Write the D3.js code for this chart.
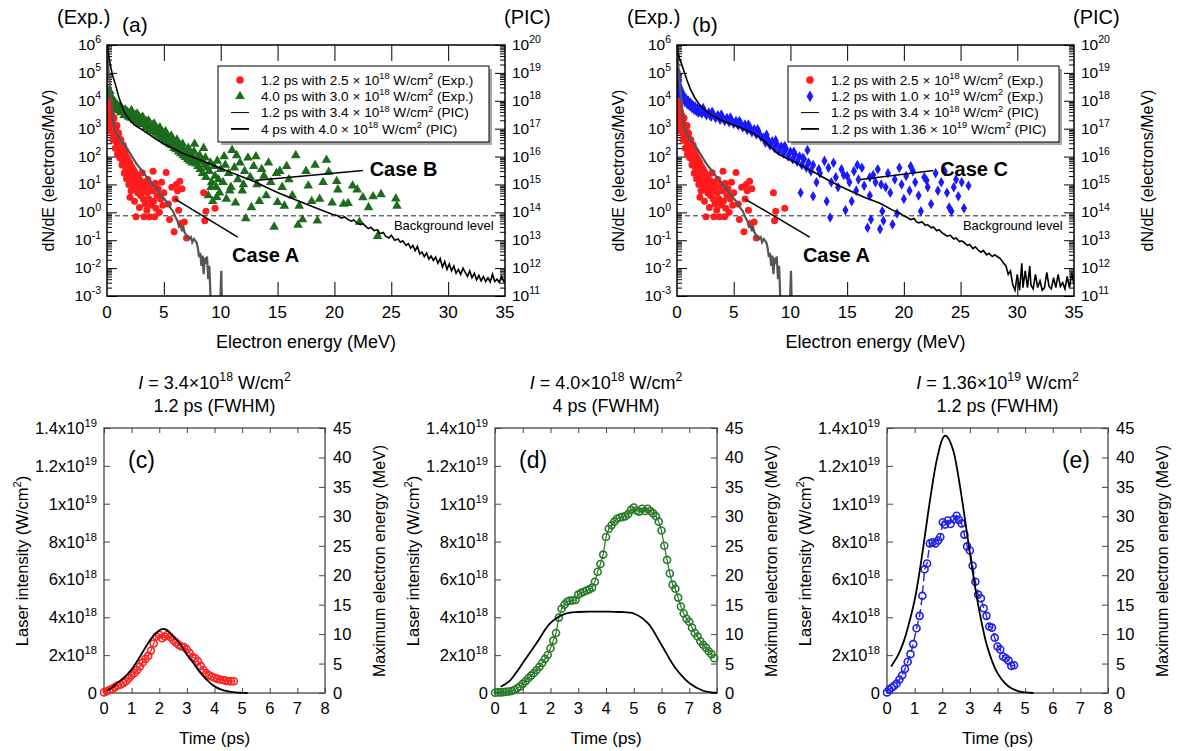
<!DOCTYPE html>
<html>
<head>
<meta charset="utf-8">
<script src="https://cdn.jsdelivr.net/npm/d3@7"></script>
<style>
body { margin: 0; background: #fff; }
svg text { font-family: "Liberation Sans", Arial, sans-serif; fill: #000; }
</style>
</head>
<body>
<svg id="fig" width="1177" height="751"></svg>
<script>
// ---- spectra data (a), (b): [energy MeV, dN/dE] ----
// experimental points, left axis (Exp.)
const redExp = [
  [0.05,1.5e3],[0.08,4e3],[0.1,7e3],[0.14,2.2e3],[0.17,5e3],[0.2,9e3],[0.23,3e3],[0.26,6e3],[0.29,1.6e3],[0.32,4e3],
  [0.35,2.4e3],[0.38,1.2e3],[0.42,3e3],[0.46,8e2],[0.5,1.8e3],[0.55,1e3],[0.6,5e2],[0.65,1.3e3],[0.7,6.5e2],[0.75,3.6e2],
  [0.8,9e2],[0.85,4.5e2],[0.9,2.6e2],[0.95,6e2],[1.0,3.2e2],[1.05,1.7e2],[1.1,4.2e2],[1.15,2.1e2],[1.2,1.2e2],[1.25,2.7e2],
  [1.3,1.4e2],[1.35,75],[1.4,1.9e2],[1.45,95],[1.5,52],[1.55,1.3e2],[1.6,66],[1.65,36],[1.7,1e2],[1.75,48],
  [1.8,26],[1.85,78],[1.9,38],[1.95,18],[2.0,60],[2.05,28],[2.1,14],[2.15,45],[2.2,22],[2.25,10],
  [2.3,35],[2.35,16],[2.4,7],[2.45,28],[2.5,12],[2.55,0.7],[2.6,22],[2.65,9],[2.7,5],[2.75,18],
  [2.8,7],[2.9,14],[2.95,4],[3.0,10],[3.1,26],[3.15,6],[3.2,3],[3.3,12],[3.35,2],[3.4,8],
  [3.5,1.2],[3.55,5],[3.6,15],[3.7,3],[3.75,0.7],[3.8,9],[3.9,1.8],[4.0,6],[4.05,30],[4.1,2.5],
  [4.2,0.7],[4.25,11],[4.3,1.4],[4.4,4],[4.5,7],[4.6,1],[4.7,3],[4.8,12],[4.9,1.8],[5.0,5],
  [5.2,27],[5.4,2],[5.5,0.55],[5.7,8],[5.9,0.2],[6.0,3],[6.1,10],[6.2,6],[6.3,1.2],[6.4,13],
  [6.5,0.4],[6.6,7],[6.8,0.45],[7.0,0.12],[8.5,5],[8.6,0.5],[8.7,1.1],[9.5,1.4],
  [0.3,8e2],[0.52,4e2],[0.62,2.4e3],[0.72,2e2],[0.88,1.3e3],[0.92,1.2e2],[1.12,90],[1.32,50],[1.52,25],[1.72,16],
  [1.92,10],[2.12,6],[1.02,7e2],[1.22,4e2],[1.42,2.6e2],[1.62,1.6e2],[2.02,3.5],[2.42,2.5],[2.85,1.5],[3.25,0.7]
];
const greenExp = [
  [0.02,1.5e4],[0.05,2.5e4],[0.08,1e4],[0.1,2e4],[0.12,8e3],[0.15,1.6e4],[0.2,1.2e4],[0.25,2.2e4],[0.3,9e3],[0.35,1.5e4],
  [0.4,7e3],[0.45,1.1e4],[0.5,8e3],[0.6,6e3],[0.7,9e3],[0.8,5e3],[0.9,7e3],[1.0,4.5e3],[1.1,6e3],[1.2,3.8e3],
  [1.3,5.5e3],[1.4,4e3],[1.5,3e3],[1.6,4.8e3],[1.7,3.2e3],[1.8,4e3],[1.9,2.6e3],[2.0,3.5e3],[2.1,2.4e3],[2.2,3.8e3],
  [2.3,2.8e3],[2.4,2e3],[2.5,3e3],[2.6,2.2e3],[2.7,1.6e3],[2.8,2.6e3],[2.9,1.8e3],[3.0,2.4e3],[3.1,1.4e3],[3.2,2e3],
  [3.3,1.5e3],[3.4,1.1e3],[3.5,1.8e3],[3.6,1.2e3],[3.7,900],[3.8,1.5e3],[3.9,1e3],[4.0,1.3e3],[4.1,800],[4.2,1.1e3],
  [4.3,700],[4.4,950],[4.5,600],[4.6,850],[4.7,500],[4.8,700],[4.9,450],[5.0,620],[5.1,380],[5.2,520],
  [5.3,330],[5.4,450],[5.5,280],[5.6,400],[5.7,250],[5.8,330],[5.9,200],[6.0,300],[6.1,180],[6.2,250],
  [6.3,150],[6.4,220],[6.5,130],[6.6,190],[6.7,110],[6.8,160],[6.9,95],[7.0,140],[7.1,80],[7.2,120],
  [7.3,70],[7.4,110],[7.5,60],[7.6,90],[7.7,280],[7.8,55],[7.9,85],[8.0,45],[8.1,75],[8.2,35],
  [8.3,65],[8.4,25],[8.5,200],[8.6,50],[8.7,18],[8.8,40],[8.9,4],[9.0,30],[9.1,60],[9.2,12],
  [9.3,2.5],[9.4,45],[9.5,20],[9.6,8],[9.7,70],[9.8,15],[9.9,5],[10.0,35],[10.2,12],[10.4,50],
  [10.5,3],[10.7,25],[10.9,8],[11.0,170],[11.2,40],[11.3,2.2],[11.5,15],[11.7,60],[11.9,6],[12.1,30],
  [12.2,0.6],[12.4,90],[12.6,18],[12.7,1.5],[12.9,45],[13.1,100],[13.2,10],[13.4,2.5],[13.6,35],[13.8,20],
  [14.0,4],[14.2,60],[14.4,12],[14.7,0.3],[14.9,25],[15.0,2.3],[15.2,30],[15.4,8],[15.6,1.7],[15.8,45],
  [16.0,15],[16.3,4],[16.6,110],[16.8,0.35],[16.9,1.7],[17.2,0.55],[17.5,30],[17.7,9],[18.0,2.5],[18.3,50],
  [18.5,0.5],[18.7,3],[19.0,12],[19.3,75],[19.5,28],[19.8,2.2],[20.2,13],[20.3,6.5],[20.8,2],[21.2,2.1],
  [21.6,9],[22.0,6.5],[22.2,0.45],[22.5,3.4],[23.0,1.5],[23.4,3.7],[23.8,0.14],[24.1,4.4],[25.4,3.1],[25.5,1.7],
  [2.15,4.6e3],[2.65,3.4e3],[3.15,2.6e3],[3.65,1.9e3],[4.15,1.5e3],[4.65,1.1e3],[5.15,800],[5.65,560],[6.15,400],[6.65,280],
  [7.15,200],[7.65,150],[8.15,110],[8.65,90],[9.15,8],[9.65,3.5],[10.3,100],[10.8,6],[11.4,110],[12.0,10]
];
const blueExp = [
  [0.02,1.5e4],[0.04,3e4],[0.06,6e4],[0.08,1.1e5],[0.1,4e4],[0.12,8e4],[0.15,2.2e4],[0.18,5e4],[0.22,3e4],[0.26,1.8e4],
  [0.3,2.8e4],[0.35,1.5e4],[0.4,2.2e4],[0.45,1.3e4],[0.5,1.8e4],[0.6,1.4e4],[0.7,9e3],[0.8,1.2e4],[0.9,7.5e3],[1.0,1e4],
  [1.1,6.5e3],[1.2,8.5e3],[1.3,5.5e3],[1.4,7e3],[1.5,4.8e3],[1.6,6.2e3],[1.7,4.2e3],[1.8,5.5e3],[1.9,3.7e3],[2.0,5e3],
  [2.1,4e3],[2.2,3.5e3],[2.4,4.4e3],[2.5,3.6e3],[2.6,3e3],[2.8,3.8e3],[2.9,3.1e3],[3.0,2.7e3],[3.2,3.3e3],[3.4,2.4e3],
  [3.6,3e3],[3.8,2.1e3],[4.0,2.7e3],[4.2,1.9e3],[4.4,2.4e3],[4.6,1.7e3],[4.8,2.1e3],[5.0,1.5e3],[5.2,1.9e3],[5.4,1.3e3],
  [5.6,1.6e3],[5.8,1.1e3],[6.0,1.4e3],[6.2,900],[6.4,1.15e3],[6.6,750],[6.8,950],[7.0,620],[7.2,780],[7.4,500],
  [7.6,480],[7.8,320],[8.0,420],[8.2,250],[8.4,350],[8.6,200],[8.8,280],[9.0,160],[9.2,230],[9.4,130],
  [9.6,190],[9.8,100],[10.0,150],[10.2,80],[10.4,120],[10.6,65],[10.8,100],[11.0,50],[11.2,80],[11.4,40],
  [11.6,60],[11.8,30],[12.0,50],[10.9,5],[11.5,170],[12.0,3.8],[12.3,12],[12.6,25],[13.0,70],[13.2,2.5],
  [13.35,40],[13.5,0.65],[13.8,60],[14.0,18],[14.2,8],[14.5,35],[14.85,1.2],[15.0,20],[15.2,12],[15.4,2.5],
  [15.6,30],[15.8,6],[16.0,15],[16.3,40],[16.5,9],[16.8,0.28],[17.0,4],[17.1,0.55],[17.3,22],[17.5,12],
  [17.7,35],[17.9,0.25],[18.1,1.1],[18.2,0.5],[18.4,8],[18.6,25],[18.8,5],[19.0,0.37],[19.2,15],[19.4,0.9],
  [19.6,40],[19.8,10],[20.0,3],[20.2,20],[20.5,6],[20.8,30],[21.0,12],[21.3,4],[21.5,1.1],[21.8,18],
  [22.1,8],[22.4,2],[22.8,25],[23.0,6],[23.3,12],[23.6,30],[23.8,5],[24.0,1.5],[24.2,1.1],[24.4,8],
  [24.6,15],[24.8,3.8],[25.1,12],[25.3,1.4],[25.7,9],
  [2.3,5.5e3],[3.1,4e3],[3.9,3.2e3],[4.7,2.5e3],[5.5,1.9e3],[6.3,1.4e3],[7.1,950],[7.9,600],[8.7,380],[9.5,240],
  [10.3,150],[11.1,90],[12.5,35],[13.6,12],[14.7,22],[15.9,50],[17.0,18],[18.0,10],[20.6,45],[22.0,14]
];
// PIC spectra, right axis (PIC)
const picShort = [
  [0.02,1e20],[0.08,4e19],[0.15,1e19],[0.25,4e18],[0.35,1.6e18],[0.45,5e17],[0.55,1.6e17],[0.7,8.9e16],[0.9,6e16],[1.06,4.8e16],
  [1.35,3.2e16],[1.65,2.3e16],[2.2,1e16],[2.6,5.5e15],[2.97,3.5e15],[3.3,2.3e15],[3.7,1.5e15],[4.05,1e15],[4.4,6.6e14],[4.8,4e14],
  [5.2,2.5e14],[5.5,1.6e14],[5.8,1.1e14],[6.0,7e13],[6.2,4.9e13],[6.35,3e13],[6.5,3.2e13],[6.6,2.1e13],[6.7,3.2e13],[6.8,2e13],
  [6.94,1.6e13],[7.05,1.3e13],[7.2,1.1e13],[7.38,1.3e13],[7.5,8.5e12],[7.65,1.1e13],[7.88,8.3e12],[8.0,5e12],[8.1,2.5e12],[8.2,3.5e12],
  [8.3,1.2e12],[8.4,2.8e12],[8.5,6e11],[8.6,2.4e12],[8.7,1.4e12],[8.8,2.6e12],[8.9,4e11],[9.0,1.2e12],[9.1,1e11],[9.2,1e10],
  [9.9,1e10],[10.05,8e11],[10.15,1e10]
];
const picLong = [
  [0.05,1e20],[0.12,5.6e19],[0.2,3.2e19],[0.33,1.6e19],[0.5,7.9e18],[0.77,3.5e18],[1.06,1.26e18],[1.5,4e17],[2.0,2e17],[2.5,1.3e17],
  [3.1,9.1e16],[3.7,6.3e16],[4.3,4.2e16],[5.0,2.8e16],[5.8,2e16],[6.5,1.4e16],[7.2,1.07e16],[8.1,7.8e15],[8.7,6.3e15],[9.5,4.6e15],
  [10.2,3.5e15],[11.0,2.6e15],[11.6,2.1e15],[12.5,1.5e15],[13.1,1.2e15],[14.0,7.9e14],[14.9,5.4e14],[15.9,3.6e14],[16.9,2.5e14],[18.0,1.66e14],
  [19.0,1.15e14],[19.8,8.5e13],[20.3,7.5e13],[20.6,6.2e13],[20.9,6.8e13],[21.2,5.5e13],[21.5,4.8e13],[21.7,5.3e13],[22.0,4.1e13],[22.3,3.6e13],
  [22.5,4e13],[22.8,3e13],[23.0,2.6e13],[23.2,2.9e13],[23.5,2.2e13],[23.8,2.4e13],[24.0,1.7e13],[24.3,1.9e13],[24.5,1.4e13],[24.8,1.2e13],
  [25.0,1.5e13],[25.3,1e13],[25.6,1.1e13],[25.8,8.5e12],[26.0,9.5e12],[26.3,6.5e12],[26.5,7.5e12],[26.7,5.2e12],[26.9,6.5e12],[27.1,4.2e12],
  [27.3,6e12],[27.5,3.2e12],[27.7,3.8e12],[27.9,2.6e12],[28.1,3.5e12],[28.3,2.1e12],[28.5,2.7e12],[28.7,1.9e12],[28.9,2.5e12],[29.1,1.5e12],
  [29.3,2.2e12],[29.5,1.1e12],[29.7,1.7e12],[29.9,9e11],[30.1,1.4e12],[30.3,8e11],[30.5,1.2e12],[30.7,6.5e11],[30.9,9e11],[31.1,6e11],
  [31.3,1e12],[31.5,7e11],[31.7,5e11],[31.9,8e11],[32.1,4.5e11],[32.3,6.5e11],[32.5,3.8e11],[32.7,5.5e11],[32.9,3.5e11],[33.1,5e11],
  [33.3,3.3e11],[33.5,4.5e11],[33.7,3.2e11],[33.9,6e11],[34.1,3.3e11],[34.3,4e11],[34.5,3.1e11],[34.7,5e11],[34.9,3.3e11],[35.0,3.5e11]
];
const picHigh = [
  [0.02,1e20],[0.1,5.6e19],[0.2,3.5e19],[0.42,2e19],[0.7,8.9e18],[0.92,5e18],[1.2,2.5e18],[1.58,1.26e18],[2.0,7.1e17],[2.5,4.5e17],
  [3.0,3.2e17],[3.9,2e17],[4.7,1.5e17],[5.55,1.1e17],[6.5,7.6e16],[7.2,5.2e16],[8.0,2.8e16],[8.9,1.26e16],[9.6,8.9e15],[10.5,6e15],
  [12.05,2.8e15],[13.5,1.3e15],[15.0,6.6e14],[16.5,3.5e14],[17.9,2.1e14],[19.0,1.2e14],[19.6,9.5e13],[20.0,7.5e13],[20.3,6.5e13],[20.6,5.5e13],
  [20.9,6e13],[21.1,4.6e13],[21.3,4.2e13],[21.6,4.5e13],[21.9,3.4e13],[22.1,3.6e13],[22.4,2.8e13],[22.6,3e13],[22.9,2.2e13],[23.1,2.4e13],
  [23.4,1.8e13],[23.6,1.6e13],[23.8,1.4e13],[24.1,1.5e13],[24.4,1.1e13],[24.6,1.2e13],[24.9,9e12],[25.1,9.5e12],[25.3,8.3e12],[25.6,6.5e12],
  [25.8,7e12],[26.1,5e12],[26.3,5.8e12],[26.6,4.2e12],[26.8,3.7e12],[27.0,4.3e12],[27.3,3e12],[27.5,3.4e12],[27.8,2.6e12],[28.0,3e12],
  [28.3,2.5e12],[28.5,2.2e12],[28.8,1.5e12],[29.0,1.2e12],[29.2,6e11],[29.4,8e11],[29.6,2.5e11],[29.8,1.6e11],[30.0,6e11],[30.2,1.6e11],
  [30.4,1.5e12],[30.5,2e11],[30.7,8e11],[30.9,2e11],[31.1,1.2e12],[31.2,2.5e11],[31.4,1.8e11],[31.6,6e11],[31.8,2e11],[32.0,3.5e11],
  [32.2,1.6e11],[32.4,2e11],[32.6,7e11],[32.8,2.2e11],[33.0,1.8e11],[33.2,4.5e11],[33.4,2e11],[33.6,6e11],[33.8,2.2e11],[34.0,3e11],
  [34.2,1.8e11],[34.4,5e11],[34.6,2e11],[34.8,7e11],[35.0,2.5e11]
];
const backgroundLevel = 0.75;
const energyTicks = [0, 5, 10, 15, 20, 25, 30, 35];
const expDecades = [-3, -2, -1, 0, 1, 2, 3, 4, 5, 6];
const picDecades = [11, 12, 13, 14, 15, 16, 17, 18, 19, 20];

// ---- laser pulses (c), (d), (e) ----
const cLaserT = [0.1,0.3,0.5,0.75,1.0,1.25,1.5,1.75,2.0,2.1,2.25,2.5,2.75,3.0,3.25,3.5,3.75,4.0,4.25,4.5,4.75,5.0,5.2];
const cLaserI = [0.12e18,0.3e18,0.55e18,0.85e18,1.25e18,1.8e18,2.4e18,2.95e18,3.3e18,3.38e18,3.35e18,3.0e18,2.6e18,2.05e18,1.55e18,1.05e18,0.65e18,0.35e18,0.18e18,0.08e18,0.03e18,0.01e18,0];
const cMaxT = [0,0.1,0.2,0.3,0.4,0.5,0.6,0.7,0.8,0.9,1.0,1.1,1.2,1.3,1.4,1.5,1.6,1.7,1.8,1.9,2.0,2.1,2.2,2.3,2.4,2.5,2.6,2.7,2.8,2.9,3.0,3.1,3.2,3.3,3.4,3.5,3.6,3.7,3.8,3.9,4.0,4.1,4.2,4.3,4.4,4.5,4.6,4.7];
const cMaxE = [0.1,0.3,0.5,0.7,1.0,1.3,1.4,1.7,2.0,2.5,3.0,3.4,3.9,4.5,5.2,5.8,6.3,7.2,8.4,9.6,9.9,9.3,9.6,9.9,9.5,9.0,8.6,8.2,7.9,7.8,7.4,6.8,6.1,5.9,5.4,4.6,3.9,3.4,3.0,2.8,2.6,2.4,2.3,2.2,2.1,2.0,2.0,2.0];

const dLaserT = [0.2,0.5,0.75,1.0,1.5,2.0,2.5,3.0,3.5,4.0,4.5,5.0,5.5,6.0,6.5,7.0,7.5,7.8,8.0];
const dLaserI = [0.33e18,0.6e18,1.05e18,1.58e18,2.64e18,3.7e18,4.17e18,4.28e18,4.3e18,4.3e18,4.28e18,4.2e18,3.7e18,2.54e18,1.32e18,0.53e18,0.12e18,0.03e18,0];
const dMaxT = [0,0.1,0.2,0.3,0.4,0.5,0.6,0.7,0.8,0.9,1.0,1.1,1.2,1.3,1.4,1.5,1.6,1.7,1.8,1.9,2.0,2.1,2.2,2.3,2.4,2.5,2.6,2.7,2.8,2.9,
  3.0,3.1,3.2,3.3,3.4,3.5,3.6,3.7,3.8,3.9,4.0,4.1,4.2,4.3,4.4,4.5,4.6,4.7,4.8,4.9,5.0,5.1,5.2,5.3,5.4,5.5,5.6,5.7,5.8,5.9,
  6.0,6.1,6.2,6.3,6.4,6.5,6.6,6.7,6.8,6.9,7.0,7.1,7.2,7.3,7.4,7.5,7.6,7.7,7.8,7.9];
const dMaxE = [0.05,0.1,0.1,0.15,0.2,0.25,0.35,0.5,0.8,1.1,1.55,2.0,2.5,2.95,3.4,3.9,4.45,5.1,5.8,6.45,
  7.6,8.9,10.2,12.8,14.3,15.0,15.5,15.7,15.7,15.8,16.7,17.0,17.2,17.4,17.6,17.9,18.9,20.6,21.9,23.5,
  26.5,27.9,28.5,29.1,29.6,29.8,29.9,30.0,30.4,31.1,31.5,31.0,30.8,31.3,30.9,31.3,30.9,30.5,30.0,29.1,
  27.6,25.0,22.6,20.3,18.4,17.7,16.2,14.7,13.5,12.6,12.1,11.1,10.2,9.6,8.8,8.2,7.7,7.1,6.6,5.9];

const eLaserT = [0.15,0.4,0.6,0.8,1.0,1.2,1.4,1.6,1.8,2.0,2.1,2.2,2.4,2.6,2.8,3.0,3.2,3.4,3.6,3.8,4.0,4.25,4.5,4.75,5.0,5.3];
const eLaserI = [1.4e18,2.0e18,2.7e18,3.7e18,4.9e18,6.6e18,8.6e18,10.6e18,12.3e18,13.4e18,13.6e18,13.5e18,12.8e18,11.3e18,9.4e18,7.4e18,5.5e18,3.9e18,2.6e18,1.7e18,1.05e18,0.55e18,0.25e18,0.1e18,0.03e18,0];
const eMaxT = [0.0,0.08,0.17,0.25,0.35,0.45,0.55,0.65,0.75,0.85,0.95,1.07,1.18,1.28,1.36,1.45,1.55,1.65,1.75,1.85,
  1.93,2.02,2.1,2.2,2.3,2.42,2.52,2.6,2.7,2.8,2.9,3.0,3.1,3.2,3.3,3.4,3.5,3.6,3.7,3.8,3.9,4.0,4.1,4.2,4.3,4.4,4.5,4.6];
const eMaxE = [0.1,0.6,0.9,1.2,1.6,2.3,3.0,4.1,5.3,6.6,8.3,11.0,13.1,16.5,21.0,22.0,25.4,25.6,25.4,25.9,
  26.5,29.0,28.6,29.3,28.7,29.5,30.1,29.4,28.8,26.9,24.9,24.2,21.6,18.9,16.7,16.1,14.4,13.1,11.3,11.1,9.4,7.9,7.4,6.2,5.9,5.5,4.6,4.7];

const timeTicks = [0, 1, 2, 3, 4, 5, 6, 7, 8];
const intensityTicks = [0, 2e18, 4e18, 6e18, 8e18, 1e19, 1.2e19, 1.4e19];
const intensityTickLabels = [["0",""],["2x10","18"],["4x10","18"],["6x10","18"],["8x10","18"],["1x10","19"],["1.2x10","19"],["1.4x10","19"]];
const maxEnergyTicks = [0, 5, 10, 15, 20, 25, 30, 35, 40, 45];

const svg = d3.select("#fig");

// text with superscripts: parts = [[text, "sup"|"it"|""], ...]
function rich(parent, x, y, parts, size, anchor) {
  const t = parent.append("text").attr("x", x).attr("y", y)
    .attr("font-size", size).attr("text-anchor", anchor || "start");
  let up = false;
  parts.forEach(p => {
    const s = t.append("tspan").text(p[0]);
    if (p[1] == "sup") {
      s.attr("font-size", size * 0.68).attr("dy", up ? 0 : -size * 0.42);
      up = true;
    } else {
      if (up) s.attr("dy", size * 0.42);
      up = false;
      if (p[1] == "it") s.attr("font-style", "italic");
    }
  });
  return t;
}

function vlabel(parent, cx, cy, parts, size) {
  const g = parent.append("g").attr("transform", "translate(" + (cx + size * 0.35) + "," + cy + ") rotate(-90)");
  rich(g, 0, 0, parts, size, "middle");
}

/* spectra */
const specTop = 45, specBottom = 296;

function drawSpectrum(o) {
  const g = svg.append("g");
  const x = d3.scaleLinear().domain([0, 35]).range([o.left, o.right]);
  const yExp = d3.scaleLog().domain([1e-3, 1e6]).range([specBottom, specTop]);
  const yPic = d3.scaleLog().domain([1e11, 1e20]).range([specBottom, specTop]);

  g.append("clipPath").attr("id", "clip" + o.tag).append("rect")
    .attr("x", o.left).attr("y", specTop).attr("width", o.right - o.left).attr("height", specBottom - specTop);

  const minorExp = [];
  expDecades.slice(0, -1).forEach(k => { for (let m = 2; m < 10; m++) minorExp.push(m * Math.pow(10, k)); });
  const minorPic = minorExp.map(v => v * 1e14);

  const ax = g.append("g");
  ax.append("g").attr("transform", "translate(" + o.left + ",0)")
    .call(d3.axisLeft(yExp).tickValues(minorExp).tickSize(-5).tickFormat(""));
  ax.append("g").attr("transform", "translate(" + o.left + ",0)")
    .call(d3.axisLeft(yExp).tickValues(expDecades.map(k => Math.pow(10, k))).tickSize(-10).tickFormat(""));
  ax.append("g").attr("transform", "translate(" + o.right + ",0)")
    .call(d3.axisRight(yPic).tickValues(minorPic).tickSize(-5).tickFormat(""));
  ax.append("g").attr("transform", "translate(" + o.right + ",0)")
    .call(d3.axisRight(yPic).tickValues(picDecades.map(k => Math.pow(10, k))).tickSize(-10).tickFormat(""));
  ax.append("g").attr("transform", "translate(0," + specBottom + ")")
    .call(d3.axisBottom(x).tickValues(energyTicks.slice(1, -1)).tickSize(-14).tickFormat(""));
  ax.append("g").attr("transform", "translate(0," + specTop + ")")
    .call(d3.axisTop(x).tickValues(energyTicks.slice(1, -1)).tickSize(-16).tickFormat(""));
  ax.selectAll(".domain").remove();
  ax.selectAll(".tick line").attr("stroke", "#000").attr("stroke-width", 1);

  // background level
  g.append("line").attr("x1", o.left).attr("x2", o.right)
    .attr("y1", yExp(backgroundLevel)).attr("y2", yExp(backgroundLevel))
    .attr("stroke", "#222").attr("stroke-width", 1).attr("stroke-dasharray", "5,3");
  g.append("text").attr("x", x(34)).attr("y", yExp(backgroundLevel) + 14)
    .attr("text-anchor", "end").attr("font-size", 13).text("Background level");

  // experimental markers
  const pts = g.append("g").attr("clip-path", "url(#clip" + o.tag + ")");
  const sym = o.second.shape == "triangle" ? d3.symbolTriangle : d3.symbolDiamond;
  pts.selectAll("path.second").data(o.second.data).enter().append("path")
    .attr("class", "second")
    .attr("transform", d => "translate(" + x(d[0]) + "," + yExp(d[1]) + ")")
    .attr("d", d3.symbol(sym).size(o.second.shape == "triangle" ? 40 : 32))
    .attr("fill", o.second.color);
  pts.selectAll("circle").data(redExp).enter().append("circle")
    .attr("cx", d => x(d[0])).attr("cy", d => yExp(d[1])).attr("r", 3.5).attr("fill", "#ff1c1c");

  // PIC lines
  const line = d3.line().x(d => x(d[0])).y(d => yPic(d[1]));
  const lines = g.append("g").attr("clip-path", "url(#clip" + o.tag + ")");
  lines.append("path").datum(picShort).attr("d", line).attr("fill", "none")
    .attr("stroke", "#555").attr("stroke-width", 2.2);
  lines.append("path").datum(o.pic).attr("d", line).attr("fill", "none")
    .attr("stroke", "#000").attr("stroke-width", 1.6);

  // frame
  g.append("rect").attr("x", o.left).attr("y", specTop).attr("width", o.right - o.left)
    .attr("height", specBottom - specTop).attr("fill", "none").attr("stroke", "#000").attr("stroke-width", 1.5);

  // tick labels
  expDecades.forEach(k => rich(g, o.left - 6, yExp(Math.pow(10, k)) + 5, [["10", ""], [String(k), "sup"]], 15.5, "end"));
  picDecades.forEach(k => rich(g, o.right + 7, yPic(Math.pow(10, k)) + 5, [["10", ""], [String(k), "sup"]], 15.5, "start"));
  energyTicks.forEach(v => g.append("text").attr("x", x(v)).attr("y", specBottom + 22)
    .attr("text-anchor", "middle").attr("font-size", 17).text(v));

  g.append("text").attr("x", (o.left + o.right) / 2).attr("y", 348).attr("text-anchor", "middle")
    .attr("font-size", 18).text("Electron energy (MeV)");
  vlabel(g, o.left - 59, (specTop + specBottom) / 2, [["dN/dE (electrons/MeV)", ""]], 16);
  if (o.rightTitle) vlabel(g, o.right + 73, (specTop + specBottom) / 2, [["dN/dE (electrons/MeV)", ""]], 16);

  g.append("text").attr("x", o.left - 50).attr("y", 24).attr("font-size", 20).text("(Exp.)");
  g.append("text").attr("x", o.left + 15).attr("y", 32).attr("font-size", 21).text("(" + o.tag + ")");
  g.append("text").attr("x", o.right - 1).attr("y", 24).attr("font-size", 20).text("(PIC)");

  // cases
  o.cases.forEach(c => {
    g.append("line").attr("x1", x(c.from[0])).attr("y1", yExp(c.from[1]))
      .attr("x2", x(c.to[0])).attr("y2", yExp(c.to[1])).attr("stroke", "#000").attr("stroke-width", 1.5);
    g.append("text").attr("x", x(c.at[0])).attr("y", yExp(c.at[1]) + 7)
      .attr("font-size", 20).attr("font-weight", "bold").text(c.text);
  });

  // legend
  const lg = g.append("g").attr("transform", "translate(" + (o.left + 111) + ",66)");
  lg.append("rect").attr("x", 3).attr("y", 3).attr("width", 271).attr("height", 76).attr("fill", "#a8a8a8");
  lg.append("rect").attr("width", 271).attr("height", 76).attr("fill", "#fff").attr("stroke", "#000").attr("stroke-width", 1);
  o.legend.forEach((item, i) => {
    const cy = 14 + i * 16.3;
    if (item.kind == "circle") lg.append("circle").attr("cx", 22).attr("cy", cy).attr("r", 3.8).attr("fill", "#ff1c1c");
    else if (item.kind == "line") lg.append("line").attr("x1", 13).attr("x2", 31).attr("y1", cy).attr("y2", cy)
      .attr("stroke", "#000").attr("stroke-width", item.w);
    else lg.append("path").attr("transform", "translate(22," + cy + ")")
      .attr("d", d3.symbol(item.kind == "triangle" ? d3.symbolTriangle : d3.symbolDiamond).size(40)).attr("fill", item.color);
    rich(lg, 43, cy + 4.7, item.parts, 13.6, "start");
  });
}

drawSpectrum({
  tag: "a", left: 107, right: 505, pic: picLong,
  second: { data: greenExp, shape: "triangle", color: "#1d6b1d" },
  cases: [
    { text: "Case B", from: [22.5, 31.6], to: [13.0, 13.8], at: [23.1, 37] },
    { text: "Case A", from: [6.0, 3.0], to: [11.5, 0.13], at: [11.0, 0.03] }
  ],
  legend: [
    { kind: "circle", parts: [["1.2 ps with 2.5 \u00d7 10", ""], ["18", "sup"], [" W/cm", ""], ["2", "sup"], [" (Exp.)", ""]] },
    { kind: "triangle", color: "#1d6b1d", parts: [["4.0 ps with 3.0 \u00d7 10", ""], ["18", "sup"], [" W/cm", ""], ["2", "sup"], [" (Exp.)", ""]] },
    { kind: "line", w: 1, parts: [["1.2 ps with 3.4 \u00d7 10", ""], ["18", "sup"], [" W/cm", ""], ["2", "sup"], [" (PIC)", ""]] },
    { kind: "line", w: 1.8, parts: [["4 ps with 4.0 \u00d7 10", ""], ["18", "sup"], [" W/cm", ""], ["2", "sup"], [" (PIC)", ""]] }
  ]
});

drawSpectrum({
  tag: "b", left: 677, right: 1074, pic: picHigh, rightTitle: true,
  second: { data: blueExp, shape: "diamond", color: "#1a1aff" },
  cases: [
    { text: "Case C", from: [22.6, 31.6], to: [16.2, 15], at: [23.2, 37] },
    { text: "Case A", from: [6.0, 3.0], to: [11.7, 0.13], at: [11.1, 0.03] }
  ],
  legend: [
    { kind: "circle", parts: [["1.2 ps with 2.5 \u00d7 10", ""], ["18", "sup"], [" W/cm", ""], ["2", "sup"], [" (Exp.)", ""]] },
    { kind: "diamond", color: "#1a1aff", parts: [["1.2 ps with 1.0 \u00d7 10", ""], ["19", "sup"], [" W/cm", ""], ["2", "sup"], [" (Exp.)", ""]] },
    { kind: "line", w: 1, parts: [["1.2 ps with 3.4 \u00d7 10", ""], ["18", "sup"], [" W/cm", ""], ["2", "sup"], [" (PIC)", ""]] },
    { kind: "line", w: 1.8, parts: [["1.2 ps with 1.36 \u00d7 10", ""], ["19", "sup"], [" W/cm", ""], ["2", "sup"], [" (PIC)", ""]] }
  ]
});

/* pulses */
const pulseTop = 428, pulseBottom = 693;

function drawPulse(o) {
  const g = svg.append("g");
  const x = d3.scaleLinear().domain([0, 8]).range([o.left, o.right]);
  const yI = d3.scaleLinear().domain([0, 1.4e19]).range([pulseBottom, pulseTop]);
  const yE = d3.scaleLinear().domain([0, 45]).range([pulseBottom, pulseTop]);

  const ax = g.append("g");
  ax.append("g").attr("transform", "translate(0," + pulseBottom + ")")
    .call(d3.axisBottom(x).tickValues(timeTicks).tickSize(-5).tickFormat(""));
  ax.append("g").attr("transform", "translate(0," + pulseTop + ")")
    .call(d3.axisTop(x).tickValues(timeTicks).tickSize(-5).tickFormat(""));
  ax.append("g").attr("transform", "translate(" + o.left + ",0)")
    .call(d3.axisLeft(yI).tickValues(intensityTicks).tickSize(-6).tickFormat(""));
  ax.append("g").attr("transform", "translate(" + o.right + ",0)")
    .call(d3.axisRight(yE).tickValues(maxEnergyTicks).tickSize(-6).tickFormat(""));
  ax.selectAll(".domain").remove();
  ax.selectAll(".tick line").attr("stroke", "#444");

  g.append("rect").attr("x", o.left).attr("y", pulseTop).attr("width", o.right - o.left)
    .attr("height", pulseBottom - pulseTop).attr("fill", "none").attr("stroke", "#444").attr("stroke-width", 1.3);

  const clip = "pclip" + o.tag;
  g.append("clipPath").attr("id", clip).append("rect")
    .attr("x", o.left - 6).attr("y", pulseTop).attr("width", o.right - o.left + 12).attr("height", pulseBottom - pulseTop + 6);

  // measured maximum electron energy
  const pts = o.maxT.map((t, i) => [t, o.maxE[i]]);
  const mline = d3.line().x(d => x(d[0])).y(d => yE(d[1]));
  g.append("path").datum(pts).attr("d", mline).attr("fill", "none")
    .attr("stroke", o.color).attr("stroke-width", o.dashed ? 1.4 : 1.2)
    .attr("stroke-dasharray", o.dashed ? "8,4" : null);
  g.append("g").selectAll("circle").data(pts).enter().append("circle")
    .attr("cx", d => x(d[0])).attr("cy", d => yE(d[1])).attr("r", 3.5)
    .attr("fill", "none").attr("stroke", o.color).attr("stroke-width", 1.6);

  // laser intensity
  const laser = o.laserT.map((t, i) => [t, o.laserI[i]]);
  g.append("path").datum(laser).attr("clip-path", "url(#" + clip + ")")
    .attr("d", d3.line().curve(d3.curveCatmullRom).x(d => x(d[0])).y(d => yI(d[1])))
    .attr("fill", "none").attr("stroke", "#000").attr("stroke-width", 1.8);

  // labels
  timeTicks.forEach(t => g.append("text").attr("x", x(t)).attr("y", pulseBottom + 21)
    .attr("text-anchor", "middle").attr("font-size", 16.5).text(t));
  intensityTicks.forEach((v, i) => rich(g, o.left - 7, yI(v) + 6,
    [[intensityTickLabels[i][0], ""], [intensityTickLabels[i][1], "sup"]], 16.5, "end"));
  maxEnergyTicks.forEach(v => g.append("text").attr("x", o.right + 8).attr("y", yE(v) + 6)
    .attr("font-size", 16.5).text(v));

  const cx = (o.left + o.right) / 2;
  g.append("text").attr("x", cx).attr("y", 744).attr("text-anchor", "middle").attr("font-size", 17).text("Time (ps)");
  vlabel(g, o.left - 82, 561, [["Laser intensity (W/cm", ""], ["2", "sup"], [")", ""]], 16.5);
  vlabel(g, o.right + 54, 561, [["Maximum electron energy (MeV)", ""]], 16);

  rich(g, cx, 389, o.title, 18, "middle");
  g.append("text").attr("x", cx).attr("y", 412).attr("text-anchor", "middle").attr("font-size", 18).text(o.width);

  g.append("text").attr("x", o.tagRight ? o.right - 18 : o.left + 24).attr("y", 468)
    .attr("text-anchor", o.tagRight ? "end" : "start").attr("font-size", 23).text("(" + o.tag + ")");
}

drawPulse({
  tag: "c", left: 104, right: 325, color: "#ff2020",
  laserT: cLaserT, laserI: cLaserI, maxT: cMaxT, maxE: cMaxE,
  title: [["I", "it"], [" = 3.4\u00d710", ""], ["18", "sup"], [" W/cm", ""], ["2", "sup"]], width: "1.2 ps (FWHM)"
});
drawPulse({
  tag: "d", left: 495, right: 717, color: "#2a7a2a",
  laserT: dLaserT, laserI: dLaserI, maxT: dMaxT, maxE: dMaxE,
  title: [["I", "it"], [" = 4.0\u00d710", ""], ["18", "sup"], [" W/cm", ""], ["2", "sup"]], width: "4 ps (FWHM)"
});
drawPulse({
  tag: "e", left: 887, right: 1108, color: "#2020e8", dashed: true, tagRight: true,
  laserT: eLaserT, laserI: eLaserI, maxT: eMaxT, maxE: eMaxE,
  title: [["I", "it"], [" = 1.36\u00d710", ""], ["19", "sup"], [" W/cm", ""], ["2", "sup"]], width: "1.2 ps (FWHM)"
});
</script>
</body>
</html>
